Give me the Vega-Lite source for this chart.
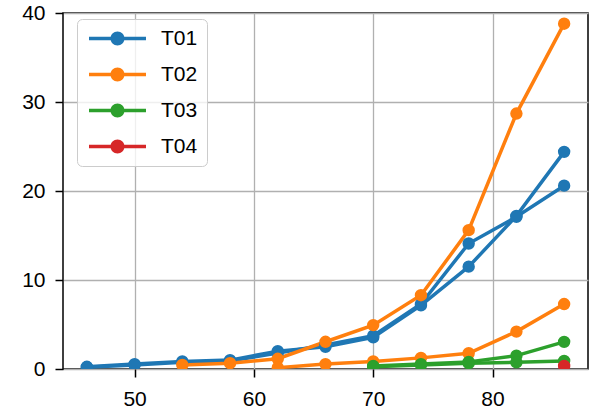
{
  "$schema": "https://vega.github.io/schema/vega-lite/v6.json",
  "width": 525,
  "height": 356,
  "autosize": {"type": "none"},
  "padding": {"left": 63, "top": 13, "right": 1, "bottom": 46},
  "background": "white",
  "config": {
    "font": "Liberation Sans",
    "view": {"stroke": "#000000", "strokeWidth": 1.5},
    "axis": {
      "domain": false,
      "grid": true,
      "gridColor": "#b0b0b0",
      "gridWidth": 1.3,
      "tickColor": "#000000",
      "tickWidth": 1.5,
      "tickSize": 8,
      "labelFontSize": 21,
      "labelColor": "#000000",
      "labelFont": "Liberation Sans",
      "title": null
    }
  },
  "data": {
    "values": [
      {"series": "T01", "run": "a", "x": 46, "y": 0.25},
      {"series": "T01", "run": "a", "x": 50, "y": 0.55},
      {"series": "T01", "run": "a", "x": 54, "y": 0.85},
      {"series": "T01", "run": "a", "x": 58, "y": 1.0},
      {"series": "T01", "run": "a", "x": 62, "y": 2.0},
      {"series": "T01", "run": "a", "x": 66, "y": 2.5},
      {"series": "T01", "run": "a", "x": 70, "y": 3.55},
      {"series": "T01", "run": "a", "x": 74, "y": 7.15},
      {"series": "T01", "run": "a", "x": 78, "y": 11.5},
      {"series": "T01", "run": "a", "x": 82, "y": 17.2},
      {"series": "T01", "run": "a", "x": 86, "y": 24.4},
      {"series": "T01", "run": "b", "x": 46, "y": 0.2},
      {"series": "T01", "run": "b", "x": 50, "y": 0.45},
      {"series": "T01", "run": "b", "x": 54, "y": 0.75},
      {"series": "T01", "run": "b", "x": 58, "y": 0.9},
      {"series": "T01", "run": "b", "x": 62, "y": 1.8},
      {"series": "T01", "run": "b", "x": 66, "y": 2.7},
      {"series": "T01", "run": "b", "x": 70, "y": 3.75},
      {"series": "T01", "run": "b", "x": 74, "y": 7.3},
      {"series": "T01", "run": "b", "x": 78, "y": 14.1},
      {"series": "T01", "run": "b", "x": 82, "y": 17.1},
      {"series": "T01", "run": "b", "x": 86, "y": 20.6},
      {"series": "T02", "run": "a", "x": 54, "y": 0.45},
      {"series": "T02", "run": "a", "x": 58, "y": 0.65},
      {"series": "T02", "run": "a", "x": 62, "y": 1.15},
      {"series": "T02", "run": "a", "x": 66, "y": 3.06},
      {"series": "T02", "run": "a", "x": 70, "y": 4.93},
      {"series": "T02", "run": "a", "x": 74, "y": 8.29},
      {"series": "T02", "run": "a", "x": 78, "y": 15.6},
      {"series": "T02", "run": "a", "x": 82, "y": 28.7},
      {"series": "T02", "run": "a", "x": 86, "y": 38.8},
      {"series": "T02", "run": "b", "x": 62, "y": 0.15},
      {"series": "T02", "run": "b", "x": 66, "y": 0.55},
      {"series": "T02", "run": "b", "x": 70, "y": 0.85},
      {"series": "T02", "run": "b", "x": 74, "y": 1.25},
      {"series": "T02", "run": "b", "x": 78, "y": 1.77},
      {"series": "T02", "run": "b", "x": 82, "y": 4.2},
      {"series": "T02", "run": "b", "x": 86, "y": 7.3},
      {"series": "T03", "run": "a", "x": 70, "y": 0.35},
      {"series": "T03", "run": "a", "x": 74, "y": 0.55},
      {"series": "T03", "run": "a", "x": 78, "y": 0.8},
      {"series": "T03", "run": "a", "x": 82, "y": 1.5},
      {"series": "T03", "run": "a", "x": 86, "y": 3.05},
      {"series": "T03", "run": "b", "x": 70, "y": 0.25},
      {"series": "T03", "run": "b", "x": 74, "y": 0.45},
      {"series": "T03", "run": "b", "x": 78, "y": 0.65},
      {"series": "T03", "run": "b", "x": 82, "y": 0.75},
      {"series": "T03", "run": "b", "x": 86, "y": 0.9},
      {"series": "T04", "run": "a", "x": 86, "y": 0.35}
    ]
  },
  "encoding": {
    "x": {
      "field": "x",
      "type": "quantitative",
      "scale": {"domain": [44, 88], "nice": false, "zero": false},
      "axis": {"values": [50, 60, 70, 80], "labelPadding": 11}
    },
    "y": {
      "field": "y",
      "type": "quantitative",
      "scale": {"domain": [0, 40], "nice": false},
      "axis": {"values": [0, 10, 20, 30, 40], "labelPadding": 10}
    },
    "color": {
      "field": "series",
      "type": "nominal",
      "scale": {
        "domain": ["T01", "T02", "T03", "T04"],
        "range": ["#1f77b4", "#ff7f0e", "#2ca02c", "#d62728"]
      },
      "legend": {
        "orient": "none",
        "legendX": 14,
        "legendY": 6,
        "title": null,
        "symbolType": "M-1.07,-0.25 L7.07,-0.25 L7.07,0.25 L-1.07,0.25 Z M4,0 A1,1 0 1 1 2,0 A1,1 0 1 1 4,0 Z",
        "symbolSize": 196,
        "symbolStrokeWidth": 0,
        "labelFontSize": 21,
        "labelFont": "Liberation Sans",
        "labelColor": "#000000",
        "labelOffset": 54,
        "padding": 9,
        "rowPadding": 14,
        "cornerRadius": 5,
        "strokeColor": "#cccccc",
        "fillColor": "rgba(255,255,255,0.8)",
        "encode": {
          "symbols": {
            "update": {
              "fill": {"scale": "color", "field": "value"},
              "stroke": {"value": "transparent"},
              "opacity": {"value": 1}
            }
          },
          "legend": {
            "update": {
              "width": {"value": 117}
            }
          }
        }
      }
    },
    "detail": {"field": "run", "type": "nominal"}
  },
  "layer": [
    {"mark": {"type": "line", "strokeWidth": 3.5, "clip": true}},
    {"mark": {"type": "point", "filled": true, "opacity": 1, "size": 154, "clip": true}}
  ]
}
